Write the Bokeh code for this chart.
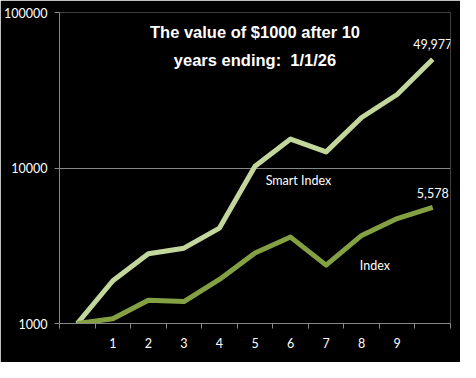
from bokeh.plotting import figure
from bokeh.models import FixedTicker, Range1d, Label
from bokeh.embed import file_html
from bokeh.resources import INLINE

# ---- data ----
years = list(range(11))
x_labels = ["", "1", "2", "3", "4", "5", "6", "7", "8", "9", ""]
smart_index = [1000, 1884, 2813, 3050, 4109, 10260, 15340, 12690, 21130, 29700, 49977]
index_vals = [1000, 1073, 1411, 1385, 1919, 2842, 3595, 2373, 3683, 4732, 5578]
y_ticks = [1000, 10000, 100000]
title_lines = ["The value of $1000 after 10", "years ending:\u00a0 1/1/26"]

SMART_COLOR = "#C3D69B"
INDEX_COLOR = "#83A043"
AXIS_COLOR = "#888888"
FONT = "Lato"
FS = "12.5px"

p = figure(width=460, height=362, output_backend="svg", toolbar_location=None,
           y_axis_type="log",
           x_range=Range1d(-0.5, 10.5), y_range=Range1d(1000, 100000),
           min_border_left=59, min_border_right=10, min_border_top=12, min_border_bottom=39)
p.background_fill_color = "black"
p.border_fill_color = "black"
p.outline_line_color = None

p.line(years, smart_index, line_color=SMART_COLOR, line_width=5, line_join="round")
p.line(years, index_vals, line_color=INDEX_COLOR, line_width=5, line_join="round")

# axes
xa = p.xaxis[0]
xa.ticker = FixedTicker(ticks=years[1:-1], minor_ticks=[i - 0.5 for i in range(12)])
xa.major_label_overrides = {i: lab for i, lab in zip(years, x_labels)}
xa.major_tick_out = 0
xa.major_tick_in = 0
xa.minor_tick_out = 5
xa.minor_tick_in = 0
xa.minor_tick_line_color = AXIS_COLOR
xa.axis_line_color = AXIS_COLOR
xa.major_label_standoff = 9
xa.major_label_text_color = "white"
xa.major_label_text_font = FONT
xa.major_label_text_font_size = FS

ya = p.yaxis[0]
ya.ticker = FixedTicker(ticks=y_ticks)
ya.major_label_overrides = {t: str(t) for t in y_ticks}
ya.major_tick_out = 5
ya.major_tick_in = 0
ya.minor_tick_line_color = None
ya.major_tick_line_color = AXIS_COLOR
ya.axis_line_color = AXIS_COLOR
ya.major_label_standoff = 7
ya.major_label_text_color = "white"
ya.major_label_text_font = FONT
ya.major_label_text_font_size = FS

p.xgrid.grid_line_color = None
p.ygrid.ticker = FixedTicker(ticks=y_ticks)
p.ygrid.grid_line_color = AXIS_COLOR
p.ygrid.grid_line_width = 1

# end value labels
p.add_layout(Label(x=years[-1], y=smart_index[-1], text=f"{smart_index[-1]:,}",
                   text_align="center", text_baseline="bottom", y_offset=10,
                   text_color="white", text_font=FONT, text_font_size=FS))
p.add_layout(Label(x=years[-1], y=index_vals[-1], text=f"{index_vals[-1]:,}",
                   text_align="center", text_baseline="bottom", y_offset=9,
                   text_color="white", text_font=FONT, text_font_size=FS))

# series name labels
p.add_layout(Label(x=5.3, y=8300, text="Smart Index", text_align="left",
                   text_baseline="middle", text_color="white", text_font=FONT,
                   text_font_size=FS))
p.add_layout(Label(x=7.95, y=2370, text="Index", text_align="left",
                   text_baseline="middle", text_color="white", text_font=FONT,
                   text_font_size=FS))

# title inside plot
p.add_layout(Label(x=5, y=75300, text=title_lines[0], text_align="center",
                   text_baseline="middle", text_color="white",
                   text_font="Liberation Sans", text_font_style="bold",
                   text_font_size="16.5px"))
p.add_layout(Label(x=5, y=49250, text=title_lines[1], text_align="center",
                   text_baseline="middle", text_color="white",
                   text_font="Liberation Sans", text_font_style="bold",
                   text_font_size="16.5px"))

open("out.html", "w").write(file_html(p, INLINE))
